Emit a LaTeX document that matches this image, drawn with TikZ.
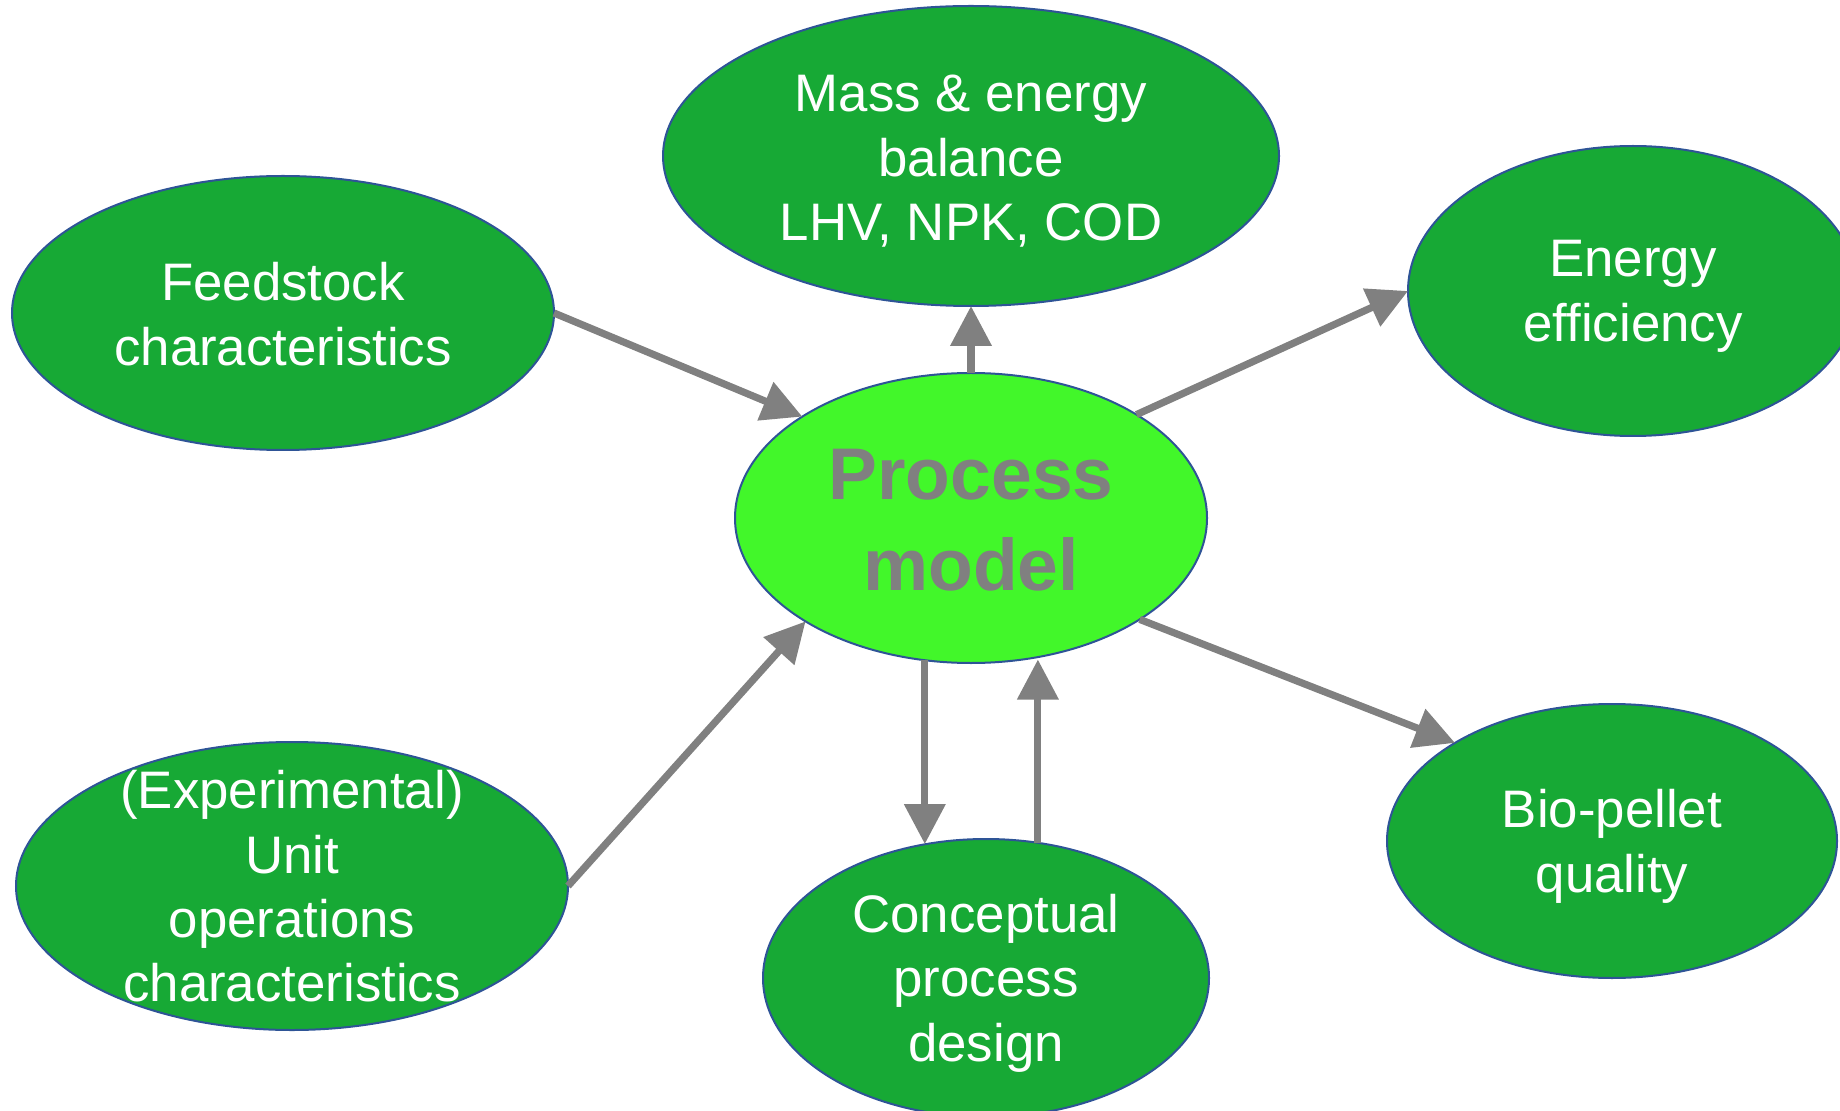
\documentclass[tikz,border=0pt]{standalone}
\usepackage{fontspec}
\setmainfont{Liberation Sans}
\usetikzlibrary{shapes.geometric, arrows.meta}

\definecolor{leafgreen}{RGB}{23,169,53}
\definecolor{coregreen}{RGB}{66,247,42}
\definecolor{rimblue}{RGB}{46,84,150}
\definecolor{linkgray}{RGB}{128,128,128}

\begin{document}
\begin{tikzpicture}[x=0.25pt, y=-0.25pt,
              every node/.style = {shape=ellipse, draw=rimblue, line width=0.5pt,
                inner sep=0pt, outer sep=0pt},
              topic/.style = {fill=leafgreen},
              core/.style = {fill=coregreen},
              words/.style = {shape=rectangle, draw=none, fill=none, align=center,
                text=white, yshift=-1.3pt, font=\fontsize{13.2}{16.1}\selectfont},
              link/.style = {draw=linkgray, line width=1.8pt,
                -{Triangle[length=10pt, width=10pt]}}]
              \useasboundingbox (0,0) rectangle (1840,1111);
              \clip (0,0) rectangle (1840,1111);

              \node[core, minimum width=118pt, minimum height=72.5pt,
                label={[words, text=linkgray, yshift=0.8pt, font=\fontsize{18.3}{22.6}\selectfont\bfseries]center:{Process\\model}}]
                (proc) at (971,518) {};
              \node[topic, minimum width=154pt, minimum height=75pt,
                label={[words]center:{Mass \& energy\\balance\\LHV, NPK, COD}}]
                (mass) at (971,156) {};
              \node[topic, minimum width=135.5pt, minimum height=68.5pt,
                label={[words, yshift=1pt]center:{Feedstock\\characteristics}}]
                (feed) at (283,313) {};
              \node[topic, minimum width=112.5pt, minimum height=72.5pt,
                label={[words]center:{Energy\\efficiency}}]
                (energy) at (1633,291) {};
              \node[topic, minimum width=112.5pt, minimum height=68.5pt,
                label={[words]center:{Bio-pellet\\quality}}]
                (bio) at (1612,841) {};
              \node[topic, minimum width=111.5pt, minimum height=69.5pt,
                label={[words]center:{Conceptual\\process\\design}}]
                (concept) at (986,978) {};
              \node[topic, minimum width=138pt, minimum height=72pt,
                label={[words, yshift=1.2pt]center:{(Experimental)\\Unit\\operations\\characteristics}}]
                (exp) at (292,886) {};

              \draw[link] (feed.east) -- (proc.149);
              \draw[link] (proc.north) -- (mass.south);
              \draw[link] (proc.32) -- (energy.west);
              \draw[link] (proc.-31) -- (bio.148);
              \draw[link] (exp.east) -- (proc.212);
              \draw[link] (proc.252) -- (proc.252 |- concept.114);
              \draw[link] (concept.69) -- (concept.69 |- proc.-70);
\end{tikzpicture}
\end{document}
